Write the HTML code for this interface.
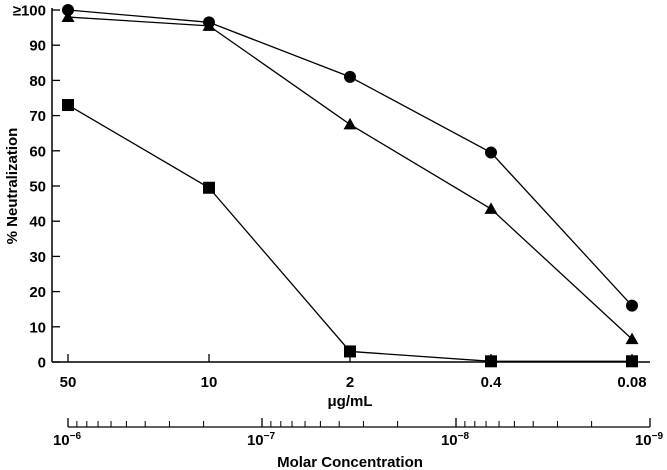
<!DOCTYPE html>
<html><head><meta charset="utf-8"><style>
body{margin:0;background:#fff}
svg{display:block;font-family:"Liberation Sans",Arial,sans-serif;font-weight:bold}
</style></head><body>
<svg id="chart" width="667" height="470" xmlns="http://www.w3.org/2000/svg"></svg>
<script>
const categories=["50","10","2","0.4","0.08"];
const circleVals=[100,96.5,81,59.5,16];
const triangleVals=[98,95.5,67.5,43.5,6.5];
const squareVals=[73,49.5,3,0.2,0.2];
const yTicks=[0,10,20,30,40,50,60,70,80,90,100];
const yTickLabels=["0","10","20","30","40","50","60","70","80","90","≥100"];
const molarExps=[-6,-7,-8,-9];

const NS="http://www.w3.org/2000/svg";
const svg=document.getElementById('chart');
const X0=52,XR=650,Y0=362,Y100=10;
const xPos=i=>68+i*141;
const yPos=v=>Y0-(v/100)*(Y0-Y100);
function mk(tag,attrs,parent){const e=document.createElementNS(NS,tag);for(const k in attrs)e.setAttribute(k,attrs[k]);(parent||svg).appendChild(e);return e;}

let e;
e=mk('line',{x1:X0,y1:Y100-2,x2:X0,y2:Y0,stroke:'#000','stroke-width':1.5});


e=mk('line',{x1:X0,y1:Y0,x2:XR,y2:Y0,stroke:'#000','stroke-width':1.5});



yTicks.forEach((v,i)=>{
  const t=mk('line',{x1:X0,y1:yPos(v),x2:X0+8,y2:yPos(v),stroke:'#000','stroke-width':1.3});
  
  
  const l=mk('text',{x:46,y:yPos(v)+5.5,'text-anchor':'end','font-size':15});
  l.textContent=yTickLabels[i];
  
  
});
categories.forEach((c,i)=>{
  const t=mk('line',{x1:xPos(i),y1:Y0,x2:xPos(i),y2:Y0-8,stroke:'#000','stroke-width':1.3});
  
  
  const l=mk('text',{x:xPos(i),y:Y0+25,'text-anchor':'middle','font-size':15});
  l.textContent=c;
  
  
});
e=mk('text',{x:350,y:406,'text-anchor':'middle','font-size':15});
e.textContent='μg/mL';


e=mk('text',{x:0,y:0,'text-anchor':'middle','font-size':15,transform:'translate(17,186) rotate(-90)'});
e.textContent='% Neutralization';



function series(vals,shape,name){
  const pts=vals.map((v,i)=>xPos(i)+','+yPos(v)).join(' ');
  const pl=mk('polyline',{points:pts,fill:'none',stroke:'#000','stroke-width':1.3});
  
  
  vals.forEach((v,i)=>{
    const x=xPos(i),y=yPos(v);let m;
    if(shape==='c')m=mk('circle',{cx:x,cy:y,r:6,fill:'#000'});
    else if(shape==='t')m=mk('polygon',{points:`${x},${y-6.5} ${x-6.5},${y+5} ${x+6.5},${y+5}`,fill:'#000'});
    else m=mk('rect',{x:x-6,y:y-6,width:12,height:12,fill:'#000'});
    
    
  });
}
series(squareVals,'s','square-series');
series(triangleVals,'t','triangle-series');
series(circleVals,'c','circle-series');

// molar axis
const MY=427,M6=68,DEC=194;
const mPos=lg=>M6+(-6-lg)*DEC;
e=mk('line',{x1:M6,y1:MY,x2:mPos(-9),y2:MY,stroke:'#000','stroke-width':1.3});


for(let d=-6;d>-9;d--){
  for(let m=9;m>=2;m--){
    const lg=d-1+Math.log10(m);
    const t=mk('line',{x1:mPos(lg),y1:MY,x2:mPos(lg),y2:MY-6,stroke:'#000','stroke-width':1});
    
    
  }
}
molarExps.forEach(d=>{
  const x=mPos(d);
  const t=mk('line',{x1:x,y1:MY,x2:x,y2:MY-9,stroke:'#000','stroke-width':1.3});
  
  
  const l=mk('text',{x:x-1,y:MY+18,'text-anchor':'middle','font-size':15});
  l.innerHTML='10<tspan dy="-6" font-size="10">−'+(-d)+'</tspan>';
  
  
});
e=mk('text',{x:350,y:467,'text-anchor':'middle','font-size':15});
e.textContent='Molar Concentration';


</script>
</body></html>
